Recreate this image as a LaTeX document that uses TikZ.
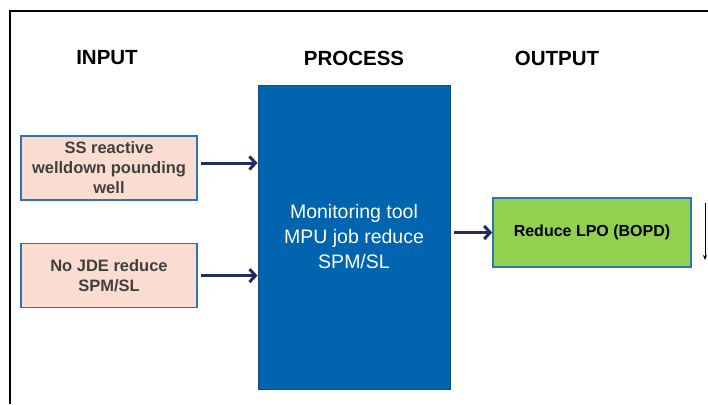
\documentclass[tikz,border=0pt]{standalone}
\usepackage{fontspec}
\setmainfont{Liberation Sans}
\usepackage{tikz}
\usetikzlibrary{arrows.meta,positioning,calc}
\definecolor{peach}{RGB}{250,220,208}
\definecolor{edgeblue}{RGB}{46,117,182}
\definecolor{procblue}{RGB}{0,100,175}
\definecolor{procedge}{RGB}{20,75,130}
\definecolor{navy}{RGB}{31,45,95}
\definecolor{leaf}{RGB}{146,208,80}
\definecolor{ink}{RGB}{64,64,64}
\tikzset{
    %Define standard arrow tip
    >={Straight Barb[length=6pt,width=13pt]},
    %Define style for headings
    kopf/.style={
           font=\fontsize{20.5}{24}\selectfont\bfseries},
    %Define style for input boxes
    inbox/.style={
           rectangle,
           draw=edgeblue, line width=1.6pt,
           fill=peach,
           text=ink,
           minimum width=176pt,
           minimum height=64pt,
           align=center,
           font=\fontsize{16.5}{20}\selectfont\bfseries},
    %Define style for process box
    procbox/.style={
           rectangle,
           draw=procedge, line width=1pt,
           fill=procblue,
           text=white,
           minimum width=192pt,
           minimum height=304pt,
           align=center,
           font=\fontsize{19.5}{25}\selectfont},
    %Define style for output box
    outbox/.style={
           rectangle,
           draw=edgeblue, line width=1.6pt,
           fill=leaf,
           text=black,
           minimum width=198pt,
           minimum height=69pt,
           align=center,
           font=\fontsize{16}{19}\selectfont\bfseries},
    % Define arrow style
    pil/.style={
           ->,
           navy,
           line width=3pt,
           shorten <=3pt,}
}

\begin{document}
\begin{tikzpicture}[x=1pt,y=-1pt]
    \useasboundingbox (0,0) rectangle (708,404);
    % frame
    \draw[line width=1.8pt] (708,11) -- (10,11) -- (10,404);
    % headings
    \node[kopf] (hin) at (107,58) {INPUT};
    \node[kopf] (hproc) at (354,58) {PROCESS};
    \node[kopf] (hout) at (557,58) {OUTPUT};
    % boxes
    \node[inbox] (in1) at (109,168) {SS reactive\\welldown pounding\\well};
    \node[inbox, below=42pt of in1] (in2) {No JDE reduce\\SPM/SL};
    \node[procbox] (proc) at (354,237) {Monitoring tool\\MPU job reduce\\SPM/SL};
    \node[outbox] (out) at (592,232.5) {Reduce LPO (BOPD)};
    % connectors
    \draw[pil] ([yshift=5pt]in1.east) -- ([yshift=5pt]in1.east -| proc.west);
    \draw[pil] (in2.east) -- (in2.east -| proc.west);
    \draw[pil] (proc.east |- out.west) -- (out.west);
    % small arrow at the side
    \coordinate (ztop) at (705,203);
    \coordinate (zbot) at (705,260);
    \draw[-{Stealth[length=5pt,width=4pt]}, line width=0.6pt] (ztop) -- (zbot);
\end{tikzpicture}
\end{document}
